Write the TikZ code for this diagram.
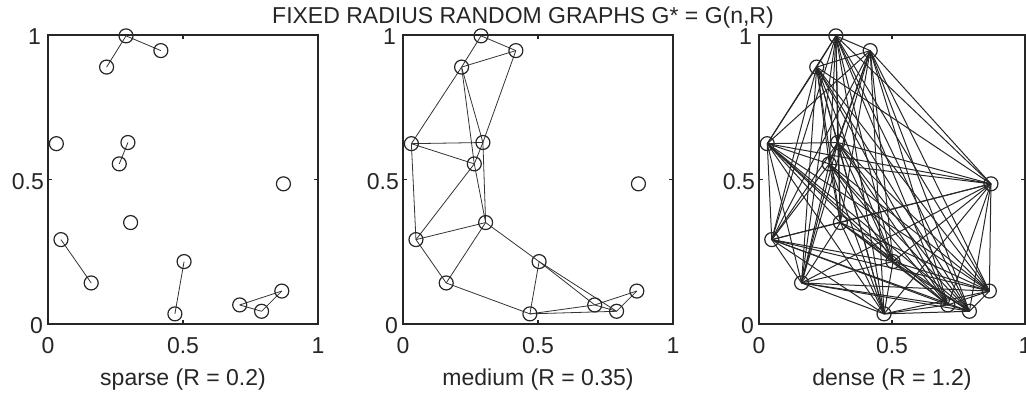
\documentclass[tikz,border=0pt]{standalone}
\usepackage{fontspec}
\setmainfont{Liberation Sans}
\tikzset{
  ax/.style={line width=1.8pt, draw=black!85},
  tick/.style={line width=1.1pt, draw=black!85},
  edge/.style={line width=0.8pt, draw=black!80},
  denseedge/.style={line width=1pt, draw=black!85},
  mk/.style={circle, draw=black!85, line width=1.2pt, minimum size=14pt, inner sep=0pt},
  lab/.style={font=\fontsize{23}{27}\selectfont, text=black!85, inner sep=0pt},
}
\newcommand\drawpanel[4]{% #1 prefix, #2 left x, #3 width, #4 caption
  \begin{scope}[shift={(#2pt,70pt)}, x=#3pt, y=289pt]
    \draw[ax] (0,0) rectangle (1,1);
    \draw[tick] (0.5,0) -- ++(0,4pt) (0.5,1) -- ++(0,-4pt)
                (0,0.5) -- ++(4pt,0) (1,0.5) -- ++(-4pt,0);
    \node[lab, anchor=base] (#1-x0) at (0,0) [yshift=-29pt] {0};
    \node[lab, anchor=base] (#1-x5) at (0.5,0) [yshift=-29pt] {0.5};
    \node[lab, anchor=base] (#1-x1) at (1,0) [yshift=-29pt] {1};
    \node[lab, anchor=base east] (#1-y0) at (0,0) [xshift=-5pt, yshift=-9pt] {0};
    \node[lab, anchor=base east] (#1-y5) at (0,0.5) [xshift=-4pt, yshift=-10pt] {0.5};
    \node[lab, anchor=base east] (#1-y1) at (0,1) [xshift=-7pt, yshift=-10pt] {1};
    \node[lab, anchor=base] (#1-cap) at (0.5,0) [yshift=-61pt] {#4};
    \foreach \n/\px/\py in {A/0.289/0.997, B/0.418/0.946, C/0.217/0.889,
        D/0.031/0.624, E/0.296/0.628, F/0.264/0.554, G/0.872/0.485,
        H/0.306/0.351, I/0.048/0.292, J/0.160/0.142, K/0.504/0.216,
        L/0.470/0.035, M/0.710/0.066, N/0.791/0.044, O/0.866/0.114}
      {\coordinate (#1-\n) at (\px,\py);}
  \end{scope}}
\newcommand\drawmarkers[1]{%
  \foreach \n in {A,B,C,D,E,F,G,H,I,J,K,L,M,N,O}
    {\node[mk] (#1-\n-m) at (#1-\n) {};}}
\begin{document}
\begin{tikzpicture}[x=1pt, y=1pt]
  \useasboundingbox (0,0) rectangle (1026,394);
  \node[lab, anchor=base] (title) at (523,370) {FIXED RADIUS RANDOM GRAPHS G* = G(n,R)};
  \drawpanel{s}{48}{270}{sparse (R = 0.2)}
  \drawpanel{m}{403}{270}{medium (R = 0.35)}
  \drawpanel{d}{759}{266}{dense (R = 1.2)}
  % sparse edges
  \foreach \a/\b in {A/B, A/C, E/F, I/J, K/L, M/N, M/O, N/O}
    {\draw[edge] (s-\a) -- (s-\b);}
  % medium edges
  \foreach \a/\b in {A/B, A/C, B/C, B/E, C/E, C/F, C/D, D/E, D/F, D/I, E/F,
      E/H, F/H, F/I, H/I, H/J, I/J, H/K, J/L, K/L, K/M, K/N, L/M, L/N,
      M/N, M/O, N/O}
    {\draw[edge] (m-\a) -- (m-\b);}
  % dense edges: all pairs
  \foreach \a [count=\i] in {A,B,C,D,E,F,G,H,I,J,K,L,M,N,O}
    {\foreach \b [count=\j] in {A,B,C,D,E,F,G,H,I,J,K,L,M,N,O}
      {\ifnum\j>\i\relax \draw[denseedge] (d-\a) -- (d-\b);\fi}}
  \drawmarkers{s}
  \drawmarkers{m}
  \drawmarkers{d}
\end{tikzpicture}
\end{document}
